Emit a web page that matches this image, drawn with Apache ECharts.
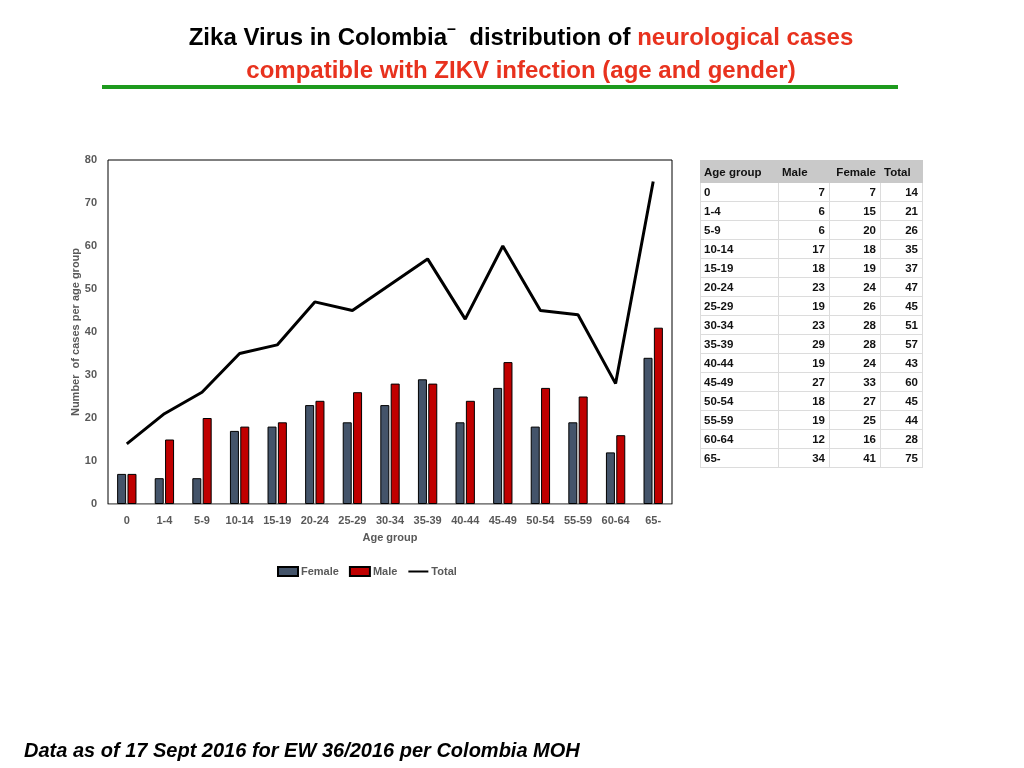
<!DOCTYPE html>
<html>
<head>
<meta charset="utf-8">
<script src="https://cdn.jsdelivr.net/npm/echarts@6/dist/echarts.min.js"></script>
<style>
  html, body { margin: 0; padding: 0; background: #fff; }
  #wrap { position: relative; width: 1024px; height: 768px; }
  #chart { position: absolute; left: 0; top: 0; width: 1024px; height: 768px; }
  #tbl { position: absolute; left: 700px; top: 160px; border-collapse: collapse;
         font-family: "Liberation Sans", Arial, sans-serif; font-size: 11.5px; font-weight: bold; color: #111; }
  #tbl th, #tbl td { border: 1px solid #dcdcdc; padding: 0 4px 0 3px; white-space: nowrap; }
  #tbl th { background: #c9c9c9; height: 21px; border-color: #c9c9c9; }
  #tbl td { height: 18px; }
</style>
</head>
<body>
<div id="wrap">
  <div id="chart"></div>
  <table id="tbl"></table>
</div>
<script>
// ---- data ----
const categories = ['0','1-4','5-9','10-14','15-19','20-24','25-29','30-34','35-39','40-44','45-49','50-54','55-59','60-64','65-'];
const femaleValues = [7,6,6,17,18,23,19,23,29,19,27,18,19,12,34];
const maleValues = [7,15,20,18,19,24,26,28,28,24,33,27,25,16,41];
const totalValues = [14,21,26,35,37,47,45,51,57,43,60,45,44,28,75];
const tableHeaders = ['Age group','Male','Female','Total'];
// table columns as printed in the source table
const tableMale = femaleValues;
const tableFemale = maleValues;
const tableTotal = totalValues;
const yTicks = [0,10,20,30,40,50,60,70,80];

// ---- table ----
const tbl = document.getElementById('tbl');
const colW = [70, 43, 43, 34];
const hAlign = ['left','left','right','left'];
let html = '<tr>';
tableHeaders.forEach((h,i) => { html += `<th style="width:${colW[i]}px;text-align:${hAlign[i]}">${h}</th>`; });
html += '</tr>';
categories.forEach((c,i) => {
  html += `<tr><td style="text-align:left">${c}</td><td style="text-align:right">${tableMale[i]}</td><td style="text-align:right">${tableFemale[i]}</td><td style="text-align:right">${tableTotal[i]}</td></tr>`;
});
tbl.innerHTML = html;

// ---- chart ----
const chart = echarts.init(document.getElementById('chart'));
const gray = '#595959';
const font = '"Liberation Sans", Arial, sans-serif';
chart.setOption({
  animation: false,
  textStyle: { fontFamily: font },
  title: {
    left: 516, top: 17, textAlign: 'center',
    text: '{b|Zika Virus in Colombia}{d|\u2013}{b|  distribution of }{r|neurological cases}\n{r|compatible with ZIKV infection (age and gender)}',
    textStyle: {
      rich: {
        b: { fontFamily: font, fontWeight: 'bold', fontSize: 24, color: '#000', lineHeight: 33 },
        d: { fontFamily: font, fontWeight: 'bold', fontSize: 16, color: '#000', lineHeight: 33, verticalAlign: 'top', padding: [0,0,6,0] },
        r: { fontFamily: font, fontWeight: 'bold', fontSize: 24, color: '#e8321e', lineHeight: 33 }
      }
    }
  },
  graphic: [
    { type: 'line', shape: { x1: 102, y1: 87, x2: 898, y2: 87 }, style: { stroke: '#1e9a1e', lineWidth: 4 } },
    { type: 'text', left: 24, top: 741, style: { text: 'Data as of 17 Sept 2016 for EW 36/2016 per Colombia MOH', font: 'italic bold 20px "Liberation Sans", Arial', fill: '#000' } }
  ],
  legend: {
    left: 272, top: 561, itemWidth: 20, itemHeight: 9, itemGap: 10,
    textStyle: { color: gray, fontWeight: 'bold', fontSize: 11, padding: [0,0,0,-2] },
    data: [
      { name: 'Female', icon: 'rect' },
      { name: 'Male', icon: 'rect' },
      { name: 'Total', itemStyle: { opacity: 0 } }
    ]
  },
  grid: { left: 108, top: 160, width: 564, height: 344, show: true, borderColor: '#000', borderWidth: 1 },
  xAxis: {
    type: 'category', data: categories,
    axisLine: { lineStyle: { color: '#a6a6a6' } },
    axisTick: { show: false },
    axisLabel: { color: gray, fontWeight: 'bold', fontSize: 11, margin: 11 },
    name: 'Age group', nameLocation: 'middle', nameGap: 28,
    nameTextStyle: { color: gray, fontWeight: 'bold', fontSize: 11 }
  },
  yAxis: {
    type: 'value', min: yTicks[0], max: yTicks[yTicks.length-1], interval: 10,
    axisLine: { show: false }, axisTick: { show: false }, splitLine: { show: false },
    axisLabel: { color: gray, fontWeight: 'bold', fontSize: 11, margin: 11 },
    name: 'Number  of cases per age group', nameLocation: 'middle', nameGap: 27, nameMoveOverlap: false,
    nameTextStyle: { color: gray, fontWeight: 'bold', fontSize: 11 }
  },
  series: [
    { name: 'Female', type: 'bar', data: femaleValues, barWidth: 9, barGap: '15%',
      itemStyle: { color: '#44546a', borderColor: '#000', borderWidth: 1 } },
    { name: 'Male', type: 'bar', data: maleValues, barWidth: 9,
      itemStyle: { color: '#c00000', borderColor: '#000', borderWidth: 1 } },
    { name: 'Total', type: 'line', data: totalValues, symbol: 'none',
      lineStyle: { color: '#000', width: 3 }, itemStyle: { color: '#000' } }
  ]
});
</script>
</body>
</html>
